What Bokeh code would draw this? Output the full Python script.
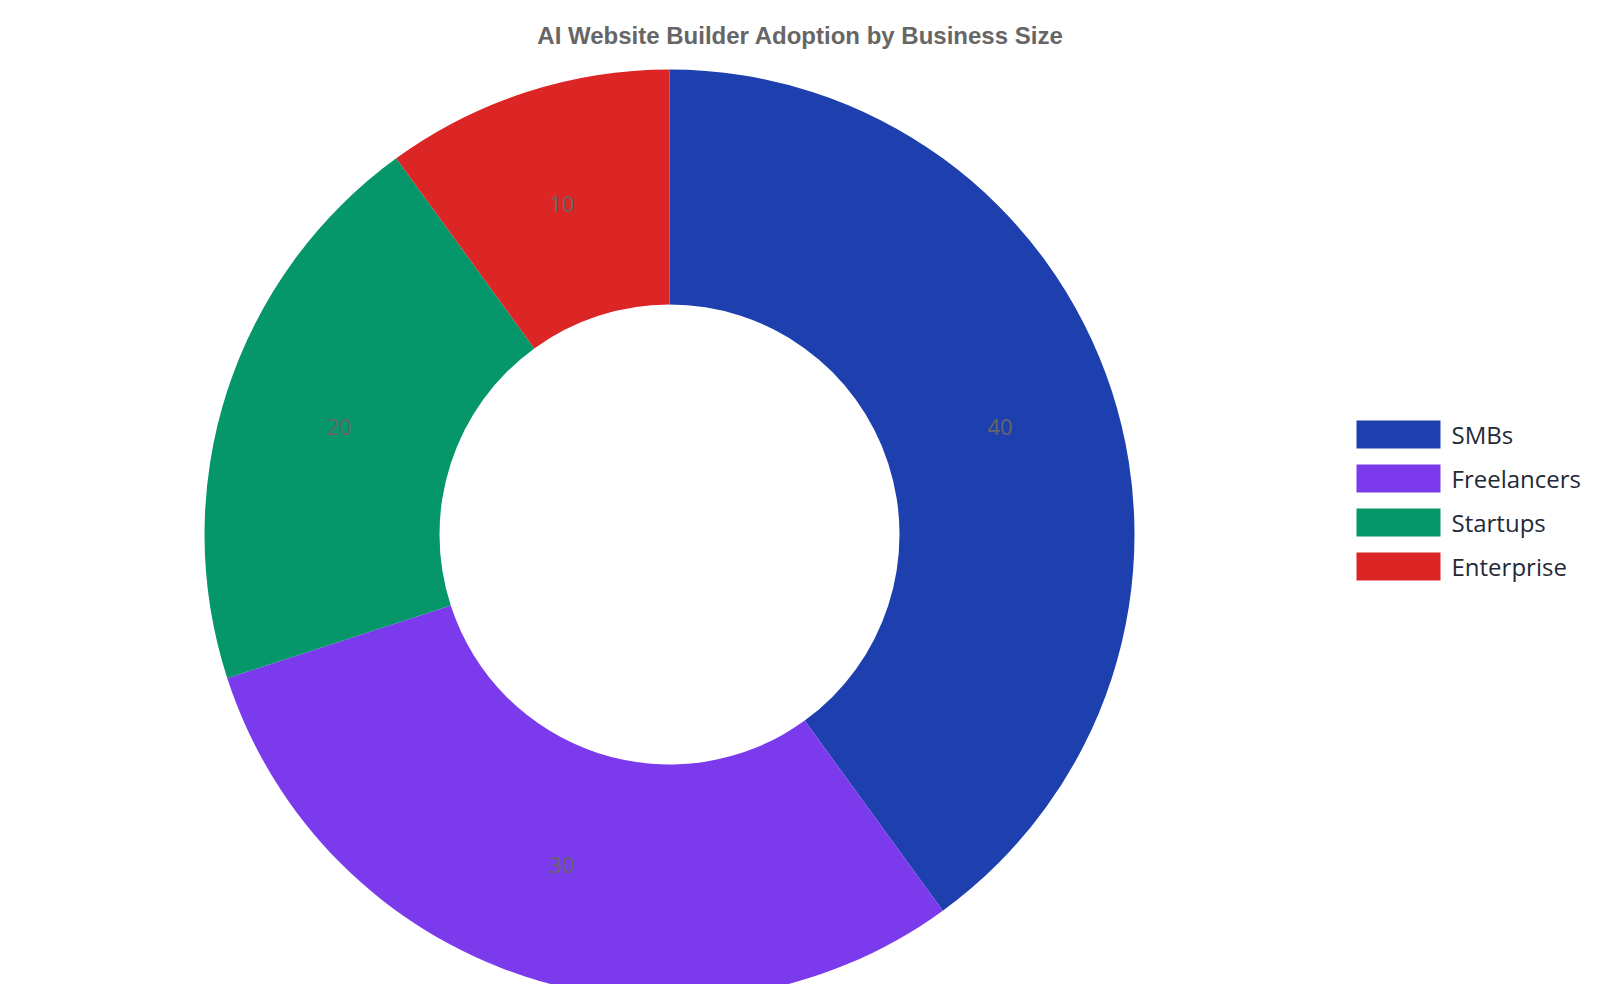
import numpy as np
from bokeh.plotting import figure
from bokeh.models import ColumnDataSource
from bokeh.core.properties import value
from bokeh.embed import file_html
from bokeh.resources import INLINE

# ---- data ----
categories = ["SMBs", "Freelancers", "Startups", "Enterprise"]
adoption = [40, 30, 20, 10]
colors = ["#1e40af", "#7c3aed", "#059669", "#dc2626"]
title_text = "AI Website Builder Adoption by Business Size"

W, H = 1584, 984
p = figure(width=W, height=H, x_range=(-8, W - 8), y_range=(8, H + 8),
           output_backend="svg", toolbar_location=None, min_border=0)
p.axis.visible = False
p.grid.visible = False
p.outline_line_color = None
p.background_fill_color = "white"

# donut geometry
cx, cy = 661, 458
r_out, r_in = 465, 230

vals = np.array(adoption, dtype=float)
frac = vals / vals.sum()
cum = np.concatenate([[0], np.cumsum(frac)])
start = np.pi / 2 - cum[:-1] * 2 * np.pi
end = np.pi / 2 - cum[1:] * 2 * np.pi
mid = (start + end) / 2
r_mid = (r_out + r_in) / 2

src = ColumnDataSource(dict(
    cat=categories, val=adoption, color=colors,
    start=start, end=end,
    lx=cx + r_mid * np.cos(mid), ly=cy + r_mid * np.sin(mid),
    label=[str(v) for v in adoption],
))

p.annular_wedge(x=cx, y=cy, inner_radius=r_in, outer_radius=r_out,
                start_angle="start", end_angle="end", direction="clock",
                fill_color="color", line_color=None, source=src)

p.text(x="lx", y="ly", text="label", source=src,
       text_font=value("Open Sans"), text_font_size="22px",
       text_color="#666666", text_align="center", text_baseline="middle")

# title
p.text(x=[792], y=[957], text=[title_text],
       text_font=value("Liberation Sans"), text_font_style="bold",
       text_font_size="24px", text_color="#666666",
       text_align="center", text_baseline="middle")

# legend (manual)
leg_x0, leg_y0, leg_dy = 1390, 558, 44
idx = np.arange(len(categories))
leg = ColumnDataSource(dict(
    x=[leg_x0] * len(categories),
    y=leg_y0 - idx * leg_dy,
    tx=[leg_x0 + 53] * len(categories),
    cat=categories, color=colors,
))
p.rect(x="x", y="y", width=84, height=28, fill_color="color",
       line_color=None, source=leg)
p.text(x="tx", y="y", text="cat", source=leg,
       text_font=value("Open Sans"), text_font_size="24px",
       text_color="#1f2937", text_align="left", text_baseline="middle")

open("out.html", "w").write(file_html(p, INLINE))
